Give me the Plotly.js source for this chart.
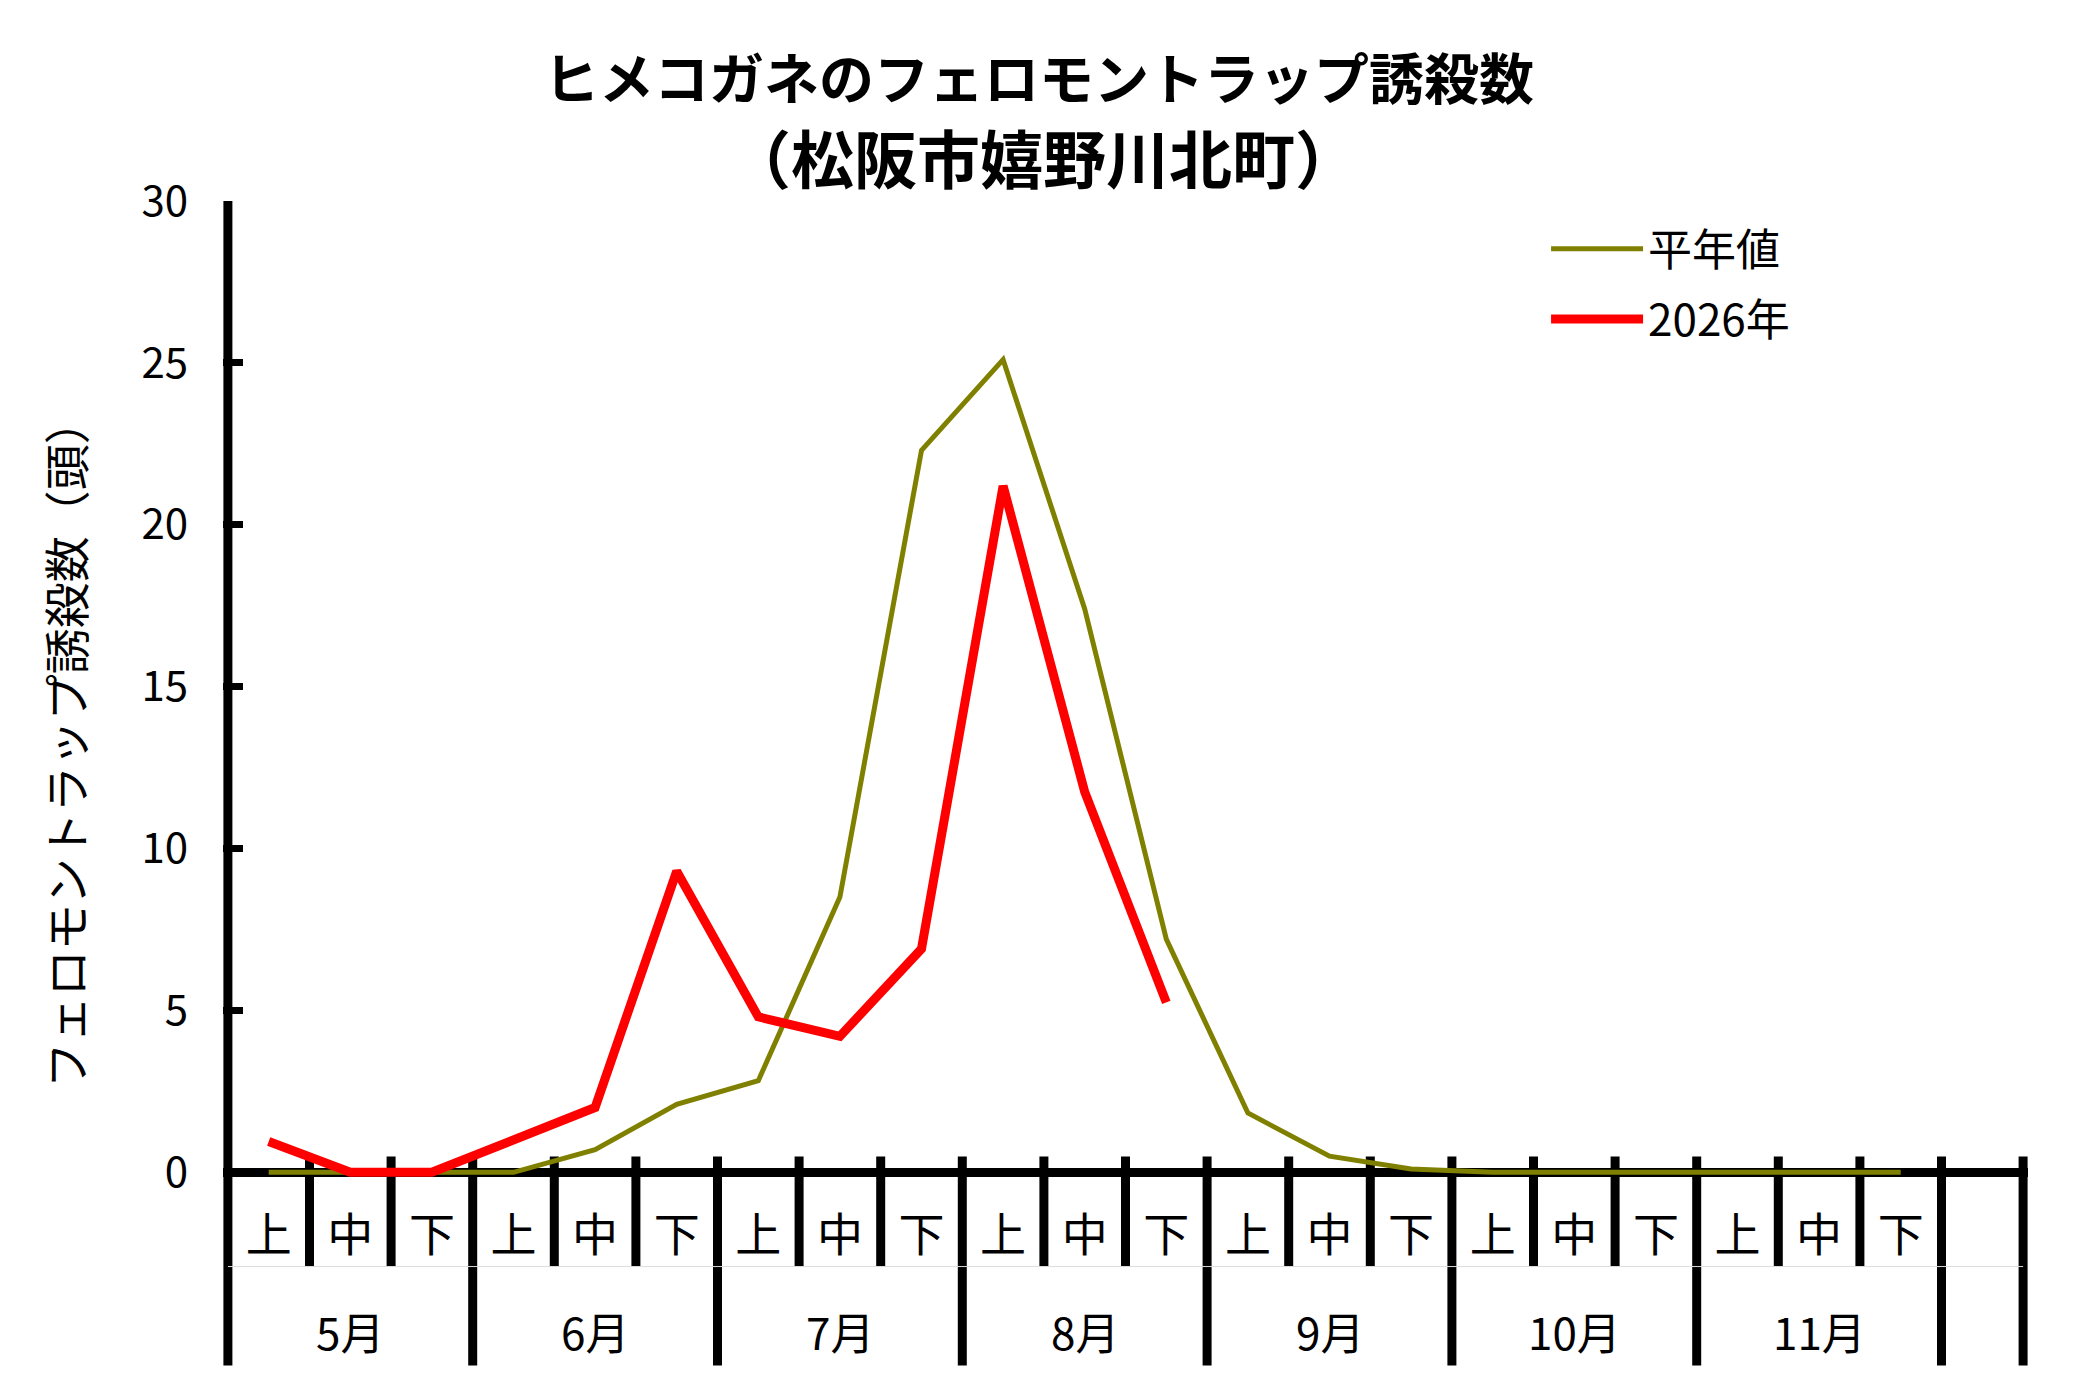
<!DOCTYPE html>
<html>
<head>
<meta charset="utf-8">
<script src="https://cdn.plot.ly/plotly-3.0.1.min.js"></script>
<style>html,body{margin:0;padding:0;background:#fff}</style>
</head>
<body>
<div id="chart" style="width:2078px;height:1389px"></div>
<script>
var months = ['5月', '6月', '7月', '8月', '9月', '10月', '11月'];
var periods = ['上', '中', '下'];
var seriesNames = ['平年値', '2026年'];
var normalVals = [0, 0, 0, 0, 0.7, 2.1, 2.83, 8.5, 22.3, 25.1, 17.4, 7.2, 1.83, 0.5, 0.1, 0, 0, 0, 0, 0, 0];
var thisYearVals = [0.95, 0, 0, 1.0, 2.0, 9.3, 4.8, 4.2, 6.9, 21.2, 11.75, 5.25];
var yTicks = [0, 5, 10, 15, 20, 25, 30];

var FONT = 'Noto Sans CJK JP, Noto Sans, sans-serif';

// 旬ラベル (5月上 .. 11月下), 右端に空き枠がひとつ
var slotLabels = [];
months.forEach(function(m) {
  periods.forEach(function(p) { slotLabels.push(p); });
});
var slotPos = slotLabels.map(function(l, i) { return i; });
var slotCount = slotLabels.length + 1;

var normal = {
  x: slotPos.slice(0, normalVals.length),
  y: normalVals,
  name: seriesNames[0],
  legendgroup: 'a',
  type: 'scatter',
  mode: 'lines',
  line: { color: '#808000', width: 5 },
  hoverinfo: 'x+y'
};

var thisYear = {
  x: slotPos.slice(0, thisYearVals.length),
  y: thisYearVals,
  name: seriesNames[1],
  legendgroup: 'b',
  type: 'scatter',
  mode: 'lines',
  line: { color: '#ff0000', width: 9 },
  hoverinfo: 'x+y'
};

// 区切り線: 月の境目は長く、旬の境目は短く
var shapes = [];
for (var k = 0; k <= slotCount; k++) {
  var major = (k % 3 === 0) || k === slotCount;
  shapes.push({
    type: 'line', layer: 'below',
    xref: 'x', yref: 'paper',
    x0: k - 0.5, x1: k - 0.5,
    y0: k === 0 ? 1 : 0.026,
    y1: major ? -0.187 : -0.0862,
    line: { color: 'black', width: 9 }
  });
}
shapes.push({
  type: 'line', layer: 'below',
  xref: 'x', yref: 'paper',
  x0: -0.5, x1: slotCount - 0.5, y0: -0.0862, y1: -0.0862,
  line: { color: '#dddddd', width: 1 }
});

var annotations = months.map(function(m, i) {
  return {
    text: m, xref: 'x', yref: 'paper',
    x: i * periods.length + 1, y: -0.152,
    xanchor: 'center', yanchor: 'middle',
    showarrow: false,
    font: { size: 44, color: 'black', family: FONT }
  };
});
annotations.push({
  text: 'フェロモントラップ誘殺数（頭）',
  xref: 'paper', yref: 'paper',
  x: -0.0884, y: 0.4476,
  xanchor: 'center', yanchor: 'middle',
  textangle: -90,
  showarrow: false,
  font: { size: 46, color: 'black', family: FONT }
});
// タイトル2行目
annotations.push({
  text: '（松阪市嬉野川北町）',
  xref: 'paper', yref: 'paper',
  x: 0.4545, y: 1.0465,
  xanchor: 'center', yanchor: 'middle',
  showarrow: false,
  font: { size: 63, weight: 'bold', color: 'black', family: FONT }
});

var layout = {
  width: 2078,
  height: 1389,
  paper_bgcolor: 'white',
  plot_bgcolor: 'white',
  font: { family: FONT, color: 'black' },
  margin: { l: 222.6, r: 50.4, t: 200.7, b: 206.6, pad: 0 },
  title: {
    text: 'ヒメコガネのフェロモントラップ誘殺数',
    x: 0.5, xanchor: 'center',
    y: 0.9424, yanchor: 'middle',
    font: { size: 55, weight: 'bold', color: 'black', family: FONT }
  },
  showlegend: true,
  legend: {
    x: 0.733, xanchor: 'left',
    y: 0.987, yanchor: 'top',
    bgcolor: 'rgba(0,0,0,0)',
    borderwidth: 0,
    itemwidth: 92,
    tracegroupgap: 10,
    font: { size: 44, color: 'black', family: FONT }
  },
  xaxis: {
    range: [-0.56, slotCount - 0.44],
    tickmode: 'array',
    tickvals: slotPos,
    ticktext: slotLabels,
    ticks: '',
    ticklabelstandoff: 22,
    showline: false,
    showgrid: false,
    zeroline: false,
    tickfont: { size: 46, color: 'black', family: FONT }
  },
  yaxis: {
    range: [-0.3, 30],
    tickmode: 'array',
    tickvals: yTicks,
    ticks: 'inside',
    ticklen: 20,
    tickwidth: 7,
    tickcolor: 'black',
    ticklabelstandoff: 34,
    showline: false,
    showgrid: false,
    zeroline: true,
    zerolinecolor: 'black',
    zerolinewidth: 9,
    tickfont: { size: 42, color: 'black', family: FONT }
  },
  shapes: shapes,
  annotations: annotations
};

Plotly.newPlot('chart', [normal, thisYear], layout, { displayModeBar: false });
</script>
</body>
</html>
